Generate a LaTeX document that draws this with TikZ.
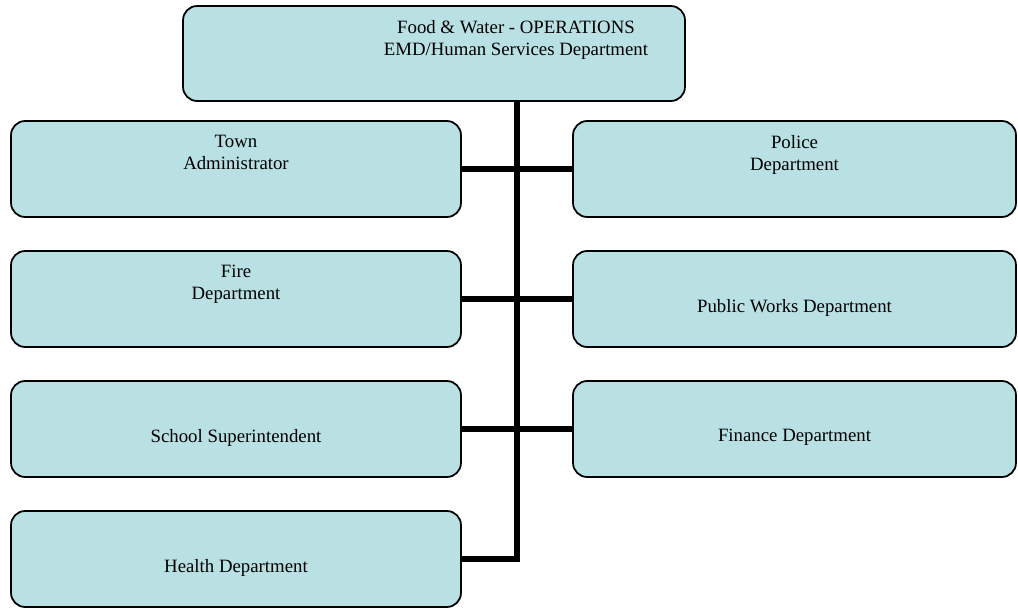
\documentclass[tikz,border=0pt]{standalone}
\usepackage{fontspec}
\setmainfont{Liberation Serif}
\definecolor{paleteal}{RGB}{185,224,227}
\tikzset{
  unitbox/.style={rectangle, rounded corners=8pt, draw=black, line width=1pt, fill=paleteal,
    minimum width=9cm, minimum height=1.92cm, inner sep=0pt},
  lblbase/.style={anchor=north, inner sep=0pt, align=center,
    font=\fontsize{10.7}{12.6}\selectfont},
  toplbl/.style={lblbase, yshift=-0.29cm},
  midlbl/.style={lblbase, yshift=-0.97cm},
  trunk/.style={line width=3.6pt}
}

\begin{document}
\begin{tikzpicture}[x=0.02cm, y=-0.02cm]
\useasboundingbox (0,0) rectangle (1018,609);

\node[unitbox, minimum width=10.04cm, minimum height=1.9cm,
  label={[toplbl, xshift=1.64cm]north:Food \& Water - OPERATIONS\\EMD/Human Services Department}] (ops) at (434,53.5) {};

\node[unitbox, label={[toplbl]north:Town\\Administrator}] (town) at (236,169) {};
\node[unitbox, label={[toplbl]north:Fire\\Department}] (fire) at (236,299) {};
\node[unitbox, label={[midlbl]north:School Superintendent}] (school) at (236,429) {};
\node[unitbox, label={[midlbl]north:Health Department}] (health) at (236,559) {};

\node[unitbox, minimum width=8.86cm, label={[toplbl]north:Police\\Department}] (police) at (794.5,169) {};
\node[unitbox, minimum width=8.86cm, label={[midlbl]north:Public Works Department}] (works) at (794.5,299) {};
\node[unitbox, minimum width=8.86cm, label={[midlbl]north:Finance Department}] (finance) at (794.5,429) {};

\coordinate (spine) at (517,101);
\draw[trunk] (ops.south -| spine) |- (health.east);
\draw[trunk] (town) -- (police);
\draw[trunk] (fire) -- (works);
\draw[trunk] (school) -- (finance);
\end{tikzpicture}
\end{document}
